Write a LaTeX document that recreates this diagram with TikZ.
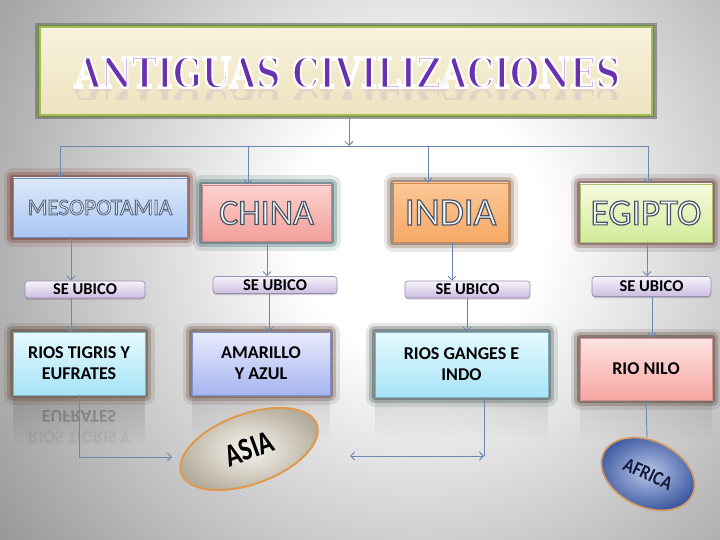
\documentclass[tikz,border=0pt]{standalone}
\usepackage{fontspec}
\setmainfont{Carlito}
\newfontfamily\titlefont{DejaVu Serif}
\usepackage{graphicx}
\usetikzlibrary{arrows.meta,shapes.geometric,fadings,calc}

\definecolor{bgout}{HTML}{989898}
\definecolor{conncol}{HTML}{6A88B0}
\definecolor{parchtop}{HTML}{F8F2DC}
\definecolor{parchbot}{HTML}{EEE3C0}
\definecolor{titlegreen}{HTML}{9FBE5A}
\definecolor{titledark}{HTML}{6E8A34}
\definecolor{titlepurple}{HTML}{6A32B0}
\definecolor{textfill}{HTML}{F4F7FA}
% country boxes
\definecolor{mesotop}{HTML}{DDE9FB}\definecolor{mesobot}{HTML}{A8C6F2}\definecolor{mesodraw}{HTML}{6A8CC0}\definecolor{mesoglow}{HTML}{7B4038}
\definecolor{chinatop}{HTML}{FBD2CF}\definecolor{chinabot}{HTML}{F39F9A}\definecolor{chinadraw}{HTML}{D08080}\definecolor{chinaglow}{HTML}{40656B}
\definecolor{indiatop}{HTML}{FCC896}\definecolor{indiabot}{HTML}{F6A866}\definecolor{indiadraw}{HTML}{D08850}\definecolor{indiaglow}{HTML}{7A6350}
\definecolor{egtop}{HTML}{F6FBE0}\definecolor{egbot}{HTML}{D4EA99}\definecolor{egdraw}{HTML}{A8C070}\definecolor{egglow}{HTML}{6E4646}
% detail boxes
\definecolor{cyantop}{HTML}{E6FAFE}\definecolor{cyanbot}{HTML}{A6E3F6}\definecolor{cyandraw}{HTML}{7FB0C0}
\definecolor{lavtop}{HTML}{E9EBFC}\definecolor{lavbot}{HTML}{A6B4F0}\definecolor{lavdraw}{HTML}{8090C8}
\definecolor{pinktop}{HTML}{FDE4E2}\definecolor{pinkbot}{HTML}{F6A6A1}\definecolor{pinkdraw}{HTML}{D09090}
\definecolor{glowA}{HTML}{64503F}\definecolor{glowB}{HTML}{6C5449}\definecolor{glowC}{HTML}{4D5D5D}\definecolor{glowD}{HTML}{5D4B40}
% se ubico
\definecolor{ubtop}{HTML}{F7F3FB}\definecolor{ubbot}{HTML}{CBBDE0}\definecolor{ubdraw}{HTML}{9A8FB0}
% ellipses
\definecolor{asiain}{HTML}{F8F6F0}\definecolor{asiaout}{HTML}{B4AD9C}\definecolor{asiaborder}{HTML}{E09850}
\definecolor{afin}{HTML}{B8C6EA}\definecolor{afout}{HTML}{3D5AA0}\definecolor{afborder}{HTML}{D49A60}\definecolor{aftext}{HTML}{141A3A}

\pgfdeclareradialshading{bgsh}{\pgfpointorigin}{color(0bp)=(white); color(6bp)=(white); color(25bp)=(bgout); color(50bp)=(bgout)}

% outlined text: fill colour, stroke rgb, stroke width, text
\newcommand\outl[4]{{\color{#1}\special{pdf:literal direct 2 Tr #3 w #2 RG}#4\special{pdf:literal direct 0 Tr}}}

\tikzset{
  conn/.style={draw=conncol, line width=0.9pt},
  arr/.style={conn, -{Straight Barb[length=4pt,width=8pt]}},
  glow/.style={
    preaction={draw=#1, draw opacity=0.15, line width=19pt, line join=round},
    preaction={draw=#1, draw opacity=0.3, line width=12pt, line join=round},
    preaction={draw=#1, draw opacity=0.5, line width=6pt, line join=round}},
  country/.style={rectangle, draw=#1, line width=0.6pt, inner sep=0pt},
  detail/.style={rectangle, draw=#1, line width=0.6pt, inner sep=0pt, align=center,
    font=\fontsize{18}{21}\selectfont\bfseries},
  ubico/.style={rectangle, rounded corners=3pt, draw=ubdraw, line width=0.7pt,
    top color=ubtop, bottom color=ubbot, minimum width=#1, inner sep=0pt,
    font=\fontsize{16.5}{16.5}\selectfont\bfseries,
    preaction={fill=black, fill opacity=0.18, transform canvas={yshift=-1.5pt}}},
}

\begin{document}
\begin{tikzpicture}[x=1pt,y=-1pt]
\useasboundingbox (0,0) rectangle (720,540);
% background
\begin{scope}
  \clip (0,0) rectangle (720,540);
  \fill[bgout] (0,0) rectangle (720,540);
  \shade[shading=bgsh] (420,230) circle (520);
\end{scope}

% title
\fill[black!55, opacity=0.7] (35,23) rectangle (657,119);
\node[rectangle, draw=titledark, line width=4.5pt, minimum width=612pt, minimum height=88pt, inner sep=0pt] (titleframe) at (346,71) {};
\node[rectangle, draw=titlegreen, line width=2.5pt, top color=parchtop, bottom color=parchbot,
      minimum width=612pt, minimum height=88pt, inner sep=0pt] (title) at (346,71) {};
\node[inner sep=0pt, anchor=south] (ttl) at (347.5,88.5)
  {\resizebox{545pt}{31pt}{\titlefont\bfseries\outl{titlepurple}{1 1 1}{0.55}{ANTIGUAS CIVILIZACIONES}}};
\begin{scope}
  \clip (45,89) rectangle (648,100);
  \begin{scope}[shift={(347.5,89)}]
    \node[inner sep=0pt, anchor=south, yscale=-1, opacity=0.1] (ttlrefl) at (0,0)
      {\resizebox{545pt}{31pt}{\titlefont\bfseries\color{titlepurple}ANTIGUAS CIVILIZACIONES}};
  \end{scope}
\end{scope}

% bus
\coordinate (bus1) at (60,146);
\coordinate (bus2) at (248,146);
\coordinate (bus3) at (428,146);
\coordinate (bus4) at (648,146);

% country boxes
\node[country=mesodraw, glow=mesoglow, top color=mesotop, bottom color=mesobot,
      minimum width=174pt, minimum height=59pt, font=\fontsize{23}{23}\selectfont] (meso) at (100,207.5)
      {\outl{textfill}{0.33 0.40 0.50}{0.9}{MESOPOTAMIA}};
\node[country=chinadraw, glow=chinaglow, top color=chinatop, bottom color=chinabot,
      minimum width=129pt, minimum height=56pt, font=\fontsize{36}{36}\selectfont] (china) at (266.5,213)
      {\outl{textfill}{0.29 0.33 0.38}{1.2}{CHINA}};
\node[country=indiadraw, glow=indiaglow, top color=indiatop, bottom color=indiabot,
      minimum width=115pt, minimum height=59pt, font=\fontsize{39}{39}\selectfont] (india) at (450.5,212.5)
      {\outl{textfill}{0.29 0.33 0.38}{1.2}{INDIA}};
\node[country=egdraw, glow=egglow, top color=egtop, bottom color=egbot,
      minimum width=132pt, minimum height=58pt, font=\fontsize{37}{37}\selectfont] (egipto) at (646,213)
      {\outl{textfill}{0.29 0.33 0.38}{1.2}{EGIPTO}};

% se ubico
\node[ubico=120pt, minimum height=17pt] (ub1) at (85,289.5) {SE UBICO};
\node[ubico=124pt, minimum height=17pt] (ub2) at (275,285) {SE UBICO};
\node[ubico=125pt, minimum height=17pt] (ub3) at (467.5,289.5) {SE UBICO};
\node[ubico=119pt, minimum height=20pt] (ub4) at (651.5,286.5) {SE UBICO};

% reflections of detail boxes
\fill[black, opacity=0.14, path fading=south] (13,397) rectangle (145,445);
\fill[black, opacity=0.10, path fading=south] (192,397) rectangle (330,440);
\fill[black, opacity=0.10, path fading=south] (375,399) rectangle (548,440);
\fill[black, opacity=0.08, path fading=south] (580,402) rectangle (712,440);
\begin{scope}[shift={(79,416)}]
  \node[yscale=-1, opacity=0.22, inner sep=0pt, font=\fontsize{18}{21}\selectfont\bfseries] (refl1) at (0,0) {EUFRATES};
\end{scope}
\begin{scope}[shift={(79,437)}]
  \node[yscale=-1, opacity=0.06, inner sep=0pt, font=\fontsize{18}{21}\selectfont\bfseries] (refl2) at (0,0) {RIOS TIGRIS Y};
\end{scope}

% detail boxes
\node[detail=cyandraw, glow=glowA, top color=cyantop, bottom color=cyanbot,
      minimum width=132pt, minimum height=63pt] (tigris) at (79,363.5) {RIOS TIGRIS Y\\EUFRATES};
\node[detail=lavdraw, glow=glowB, top color=lavtop, bottom color=lavbot,
      minimum width=138pt, minimum height=63pt] (amarillo) at (261,363.5) {AMARILLO\\Y AZUL};
\node[detail=cyandraw, glow=glowC, top color=cyantop, bottom color=cyanbot,
      minimum width=173pt, minimum height=65pt] (ganges) at (461.5,364.5) {RIOS GANGES E\\INDO};
\node[detail=pinkdraw, glow=glowD, top color=pinktop, bottom color=pinkbot,
      minimum width=132pt, minimum height=62pt] (nilo) at (646,369) {RIO NILO};

% continents
\node[ellipse, draw=asiaborder, line width=2pt, inner color=asiain, outer color=asiaout,
      minimum width=144pt, minimum height=70pt, rotate=20, inner sep=0pt,
      font=\fontsize{32}{32}\selectfont\bfseries] (asia) at (249,449) {\scalebox{0.8}[1]{ASIA}};
\node[ellipse, draw=afborder, line width=1.6pt, inner color=afin, outer color=afout,
      minimum width=98pt, minimum height=66pt, rotate=-25, inner sep=0pt,
      font=\fontsize{20}{20}\selectfont\bfseries, text=aftext] (africa) at (648,474) {\scalebox{0.85}[1]{AFRICA}};

% connectors
\draw[arr] (title.south -| 349,0) -- (bus1 -| 349,0);
\draw[conn] (bus1) -- (bus4);
\draw[arr] (bus1) -- (bus1 |- meso.north);
\draw[arr] (bus2) -- (bus2 |- china.north);
\draw[arr] (bus3) -- (bus3 |- india.north);
\draw[arr] (bus4) -- (bus4 |- egipto.north);

\draw[arr] (meso.south -| 71,0) -- (ub1.north -| 71,0);
\draw[arr] (china.south -| 267,0) -- (ub2.north -| 267,0);
\draw[arr] (india.south -| 452,0) -- (ub3.north -| 452,0);
\draw[arr] (egipto.south -| 647,0) -- (ub4.north -| 647,0);

\draw[arr] (ub1.south -| 71,0) -- (tigris.north -| 71,0);
\draw[arr] (ub2.south -| 269,0) -- (amarillo.north -| 269,0);
\draw[arr] (ub3.south -| 467,0) -- (ganges.north -| 467,0);
\draw[arr] (ub4.south -| 652,0) -- (nilo.north -| 652,0);

\coordinate (asiaL) at (172,457);
\coordinate (gcorner) at (484,456);
\coordinate (asiaR) at (350,456);
\draw[arr] (tigris.south -| 79,0) |- (asiaL);
\draw[conn] (ganges.south -| 484,0) -- (gcorner);
\draw[conn, {Straight Barb[length=4pt,width=8pt]}-{Straight Barb[length=4pt,width=8pt]}] (asiaR) -- (gcorner);
\draw[conn] (nilo.south -| 646,0) -- (africa);
\end{tikzpicture}
\end{document}
